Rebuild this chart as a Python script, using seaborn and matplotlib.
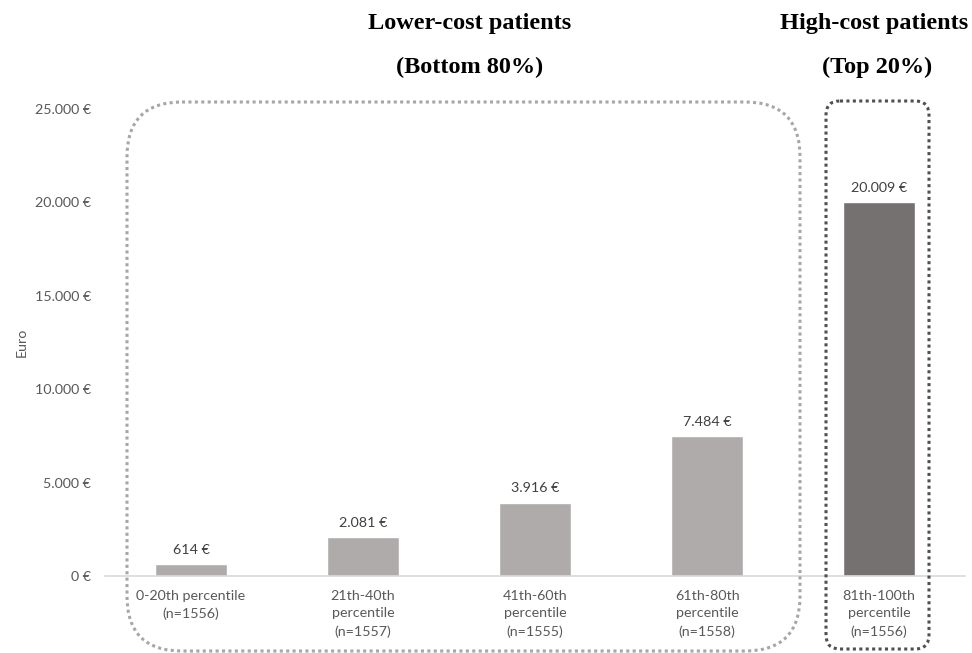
import matplotlib
matplotlib.use("Agg")
import matplotlib.pyplot as plt
from matplotlib.patches import FancyBboxPatch
import seaborn as sns

categories = [
    "0-20th percentile\n(n=1556)",
    "21th-40th\npercentile\n(n=1557)",
    "41th-60th\npercentile\n(n=1555)",
    "61th-80th\npercentile\n(n=1558)",
    "81th-100th\npercentile\n(n=1556)",
]
values = [614, 2081, 3916, 7484, 20009]
bar_colors = ["#AFABAB", "#AFABAB", "#AFABAB", "#AFABAB", "#767171"]
ytick_values = [0, 5000, 10000, 15000, 20000, 25000]


def euro(v):
    return f"{v:,}".replace(",", ".") + " €"


sns.set_theme(style="white")
plt.rcParams["font.family"] = ["Lato", "DejaVu Sans"]

fig = plt.figure(figsize=(9.72, 6.53), dpi=100)
ax = fig.add_axes([0.108, 0.118, 0.885, 0.715])

sns.barplot(x=categories, y=values, hue=categories, palette=bar_colors,
            legend=False, width=0.42, saturation=1, ax=ax)

ax.set_ylim(0, 25000)
ax.set_xlim(-0.5, 4.5)
ax.set_yticks(ytick_values)
ax.set_yticklabels([euro(v) for v in ytick_values], color="#595959", fontsize=10.3)
ax.tick_params(axis="y", length=0, pad=10)
ax.tick_params(axis="x", length=0, pad=10, labelcolor="#595959", labelsize=10.3)
for lab in ax.get_xticklabels():
    lab.set_linespacing(1.55)
    lab.set_verticalalignment("top")
ax.set_ylabel("Euro", color="#595959", fontsize=10.3)
ax.yaxis.set_label_coords((28 - 105) / 860, (576 - 342) / 467)
ax.set_xlabel("")
for side in ["top", "right", "left"]:
    ax.spines[side].set_visible(False)
ax.spines["bottom"].set_color("#D9D9D9")
ax.spines["bottom"].set_linewidth(1.2)

for i, v in enumerate(values):
    ax.annotate(euro(v), (i, v), xytext=(0, 6), textcoords="offset points",
                ha="center", va="bottom", fontsize=10.3, color="#404040")

# overlay in pixel coordinates for the group frames and headings
ov = fig.add_axes([0, 0, 1, 1], zorder=5)
ov.set_xlim(0, 972)
ov.set_ylim(653, 0)
ov.axis("off")
ov.patch.set_alpha(0)

ov.add_patch(FancyBboxPatch((127, 102), 673, 549,
                            boxstyle="round,pad=0,rounding_size=55",
                            fill=False, edgecolor="#A6A6A6", linewidth=2.2,
                            linestyle=(0, (1, 1.1))))
ov.add_patch(FancyBboxPatch((826, 101), 103, 548,
                            boxstyle="round,pad=0,rounding_size=14",
                            fill=False, edgecolor="#505050", linewidth=2.2,
                            linestyle=(0, (1, 1.1))))

head = dict(family=["Liberation Serif", "DejaVu Serif"], fontweight="bold",
            fontsize=17.5, color="black", ha="center", va="center")
ov.text(470, 23, "Lower-cost patients", **head)
ov.text(470, 67, "(Bottom 80%)", **head)
ov.text(874, 23, "High-cost patients", **head)
ov.text(877, 67, "(Top 20%)", **head)

fig.savefig("out.png", dpi=100)
